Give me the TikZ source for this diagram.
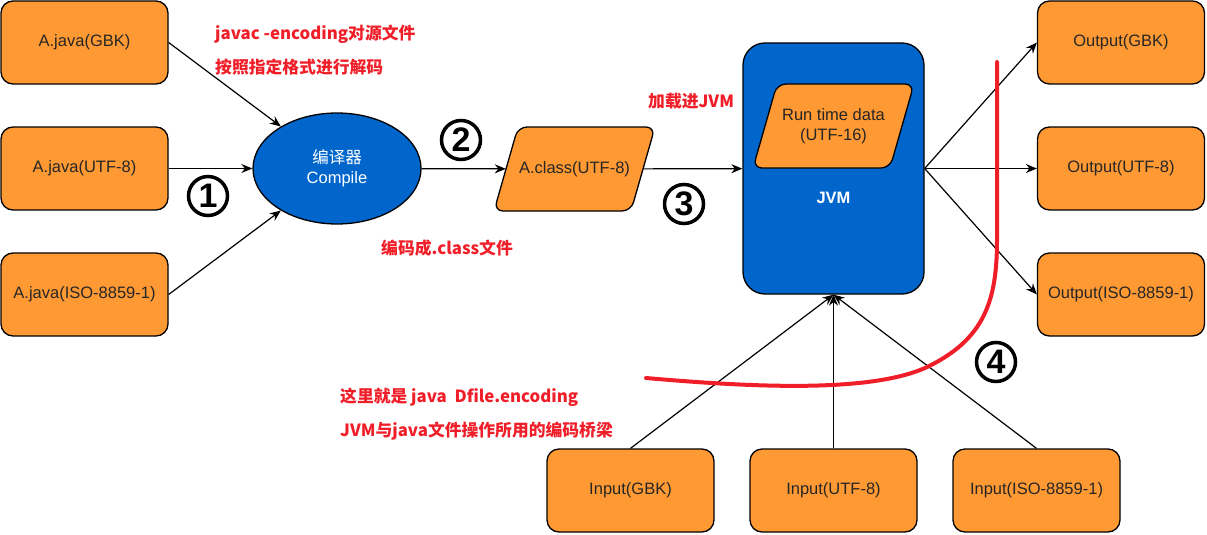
\documentclass[tikz,border=0pt]{standalone}
\usepackage{fontspec}
\setmainfont{Liberation Sans}
\newfontfamily\cjk{Noto Sans CJK SC}
\usetikzlibrary{shapes.geometric,arrows.meta}
\definecolor{boxorange}{RGB}{255,153,51}
\definecolor{jvmblue}{RGB}{0,102,204}
\definecolor{notered}{RGB}{240,30,40}

\newcommand{\parashape}[1]{%
  \draw[slantbox] ([shift={(-80.5,42)}]#1) -- ([shift={(-56.5,-42)}]#1) -- ([shift={(80.5,-42)}]#1) -- ([shift={(56.5,42)}]#1) -- cycle;}

\begin{document}
\begin{tikzpicture}[x=1pt,y=-1pt,
  box/.style={draw,line width=1.3,fill=boxorange,rounded corners=12,minimum width=167,minimum height=83,inner sep=0,text=black!85,font=\fontsize{16.5}{20}\selectfont},
  slantbox/.style={draw,line width=1.3,fill=boxorange,rounded corners=9},
  slanttext/.style={minimum width=137,minimum height=84,inner sep=0,align=center,text=black!85,font=\fontsize{16.5}{20}\selectfont},
  flow/.style={line width=1.2,-{Stealth[length=11,width=9]}},
  numcircle/.style={circle,draw,line width=3.5,minimum size=39,inner sep=0,font=\fontsize{34}{34}\selectfont\bfseries},
  note/.style={anchor=west,text=notered,inner sep=0,font=\cjk\fontsize{16.8}{20}\selectfont\bfseries}]

\useasboundingbox (0,0) rectangle (1207,535);

\node[box] (javaGBK) at (84.5,42.5) {A.java(GBK)};
\node[box] (javaUTF) at (84.5,168.5) {A.java(UTF-8)};
\node[box] (javaISO) at (84.5,294.5) {A.java(ISO-8859-1)};

\node[ellipse,draw,line width=1.3,fill=jvmblue,minimum width=168,minimum height=111,inner sep=0,align=center,text=white,font=\fontsize{16.5}{20}\selectfont] (compiler) at (337,168.5) {{\cjk 编译器}\\Compile};

\coordinate (classpos) at (574.5,169);
\parashape{classpos}
\node[slanttext] (classfile) at (classpos) {A.class(UTF-8)};

\node[draw,line width=1.3,fill=jvmblue,rounded corners=22,minimum width=181,minimum height=251] (jvm) at (833.5,168.5) {};
\coordinate (runpos) at (833.5,126);
\parashape{runpos}
\node[slanttext] (runtime) at (runpos) {Run time data\\(UTF-16)};
\node[text=white,font=\fontsize{16.5}{20}\selectfont\bfseries] (jvmlabel) at (833.5,198) {JVM};

\node[box] (outGBK) at (1121,42.5) {Output(GBK)};
\node[box] (outUTF) at (1121,168.5) {Output(UTF-8)};
\node[box] (outISO) at (1121,294.5) {Output(ISO-8859-1)};

\node[box] (inGBK) at (630.5,490.5) {Input(GBK)};
\node[box] (inUTF) at (833.5,490.5) {Input(UTF-8)};
\node[box] (inISO) at (1036.5,490.5) {Input(ISO-8859-1)};

\draw[flow] (javaGBK.east) -- (compiler);
\draw[flow] (javaUTF) -- (compiler);
\draw[flow] (javaISO.east) -- (compiler);
\draw[flow] (compiler) -- (classfile);
\draw[flow] (classfile) -- (jvm);
\foreach \o in {outGBK,outUTF,outISO}
  \draw[flow] (jvm.east) -- (\o.west);
\foreach \i in {inGBK,inUTF,inISO}
  \draw[flow] (\i.north) -- (jvm.south);

\node[numcircle] (step1) at (208,196) {1};
\node[numcircle] (step2) at (461,140) {2};
\node[numcircle] (step3) at (684,204) {3};
\node[numcircle] (step4) at (996,362) {4};

\node[note] (javacnote) at (215,34) {javac -encoding对源文件};
\node[note] (decodenote) at (215,67) {按照指定格式进行解码};
\node[note] (encodenote) at (381,248) {编码成.class文件};
\node[note] (loadnote) at (648,101) {加载进JVM};
\node[note] (dfilenote) at (340,397) {这里就是 java\ \ Dfile.encoding};
\node[note] (bridgenote) at (340,431) {JVM与java文件操作所用的编码桥梁};

\draw[notered,line width=4,line cap=round] (646,378) .. controls (760,388) and (870,392) .. (925,368) .. controls (985,340) and (997,300) .. (997,240) -- (997,62);

\end{tikzpicture}
\end{document}
